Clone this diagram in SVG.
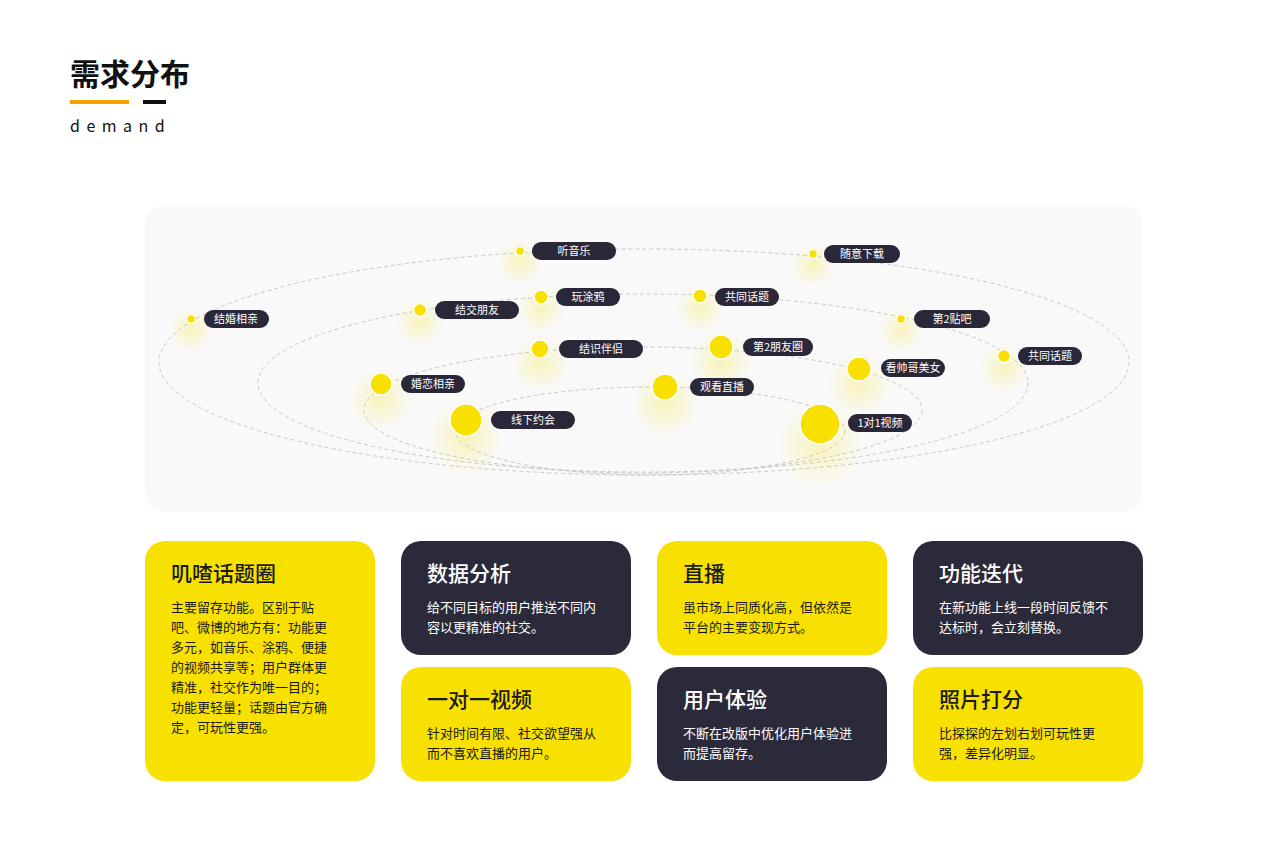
<svg xmlns="http://www.w3.org/2000/svg" width="1280" height="860" viewBox="0 0 1280 860">
<style>
text{font-family:"Noto Sans CJK SC","Noto Sans",sans-serif}
.orb{fill:none;stroke:#c8c8c8;stroke-width:1;stroke-dasharray:4 3}
.pill{fill:#2a2838}
.pt{fill:#fff;font-size:11px;text-anchor:middle}
.dot{fill:#f8e000;stroke:#fff;stroke-width:1.5}
.glow{fill:url(#g)}
.y{fill:#f8e100}.d{fill:#2b2a3a}
.ht{font-size:21px;font-weight:500}
.bt{font-size:13px}
.dk{fill:#1a1a1a}.lt{fill:#fff}
</style>
<defs><radialGradient id="g"><stop offset="0" stop-color="#f8e000" stop-opacity="0.25"/><stop offset="1" stop-color="#f8e000" stop-opacity="0"/></radialGradient></defs>
<rect width="1280" height="860" fill="#fff"/>
<text x="70" y="85" font-size="30" font-weight="700" fill="#111">需求分布</text>
<line x1="70" y1="102" x2="129" y2="102" stroke="#f5a000" stroke-width="4"/>
<line x1="143" y1="102" x2="166" y2="102" stroke="#111" stroke-width="4"/>
<text x="70" y="132" font-size="16" fill="#111" letter-spacing="6.5" font-family="Noto Sans">demand</text>
<rect x="145" y="205" width="997" height="307" rx="20" fill="#f9f9f9"/>
<g id="connectors">
<ellipse class="orb" cx="644" cy="362" rx="485" ry="113"/>
<ellipse class="orb" cx="643" cy="383" rx="385" ry="89"/>
<ellipse class="orb" cx="643" cy="410" rx="279" ry="63"/>
<ellipse class="orb" cx="650" cy="431" rx="195" ry="44"/>
</g>
<g id="n1"><circle class="glow" cx="520" cy="262" r="22"/><circle class="dot" cx="520" cy="251" r="4.5"/><rect class="pill" x="532" y="242" width="84" height="18" rx="9"/><text class="pt" x="574" y="255">听音乐</text></g>
<g id="n2"><circle class="glow" cx="813" cy="265" r="22"/><circle class="dot" cx="813" cy="254" r="4.5"/><rect class="pill" x="824" y="245" width="76" height="18" rx="9"/><text class="pt" x="862" y="258">随意下载</text></g>
<g id="n3"><circle class="glow" cx="191" cy="330" r="22"/><circle class="dot" cx="191" cy="319" r="4.5"/><rect class="pill" x="204" y="310" width="65" height="18" rx="9"/><text class="pt" x="236" y="323">结婚相亲</text></g>
<g id="n4"><circle class="glow" cx="420" cy="322" r="24"/><circle class="dot" cx="420" cy="310" r="6.5"/><rect class="pill" x="435" y="301" width="84" height="18" rx="9"/><text class="pt" x="477" y="314">结交朋友</text></g>
<g id="n5"><circle class="glow" cx="541" cy="309" r="24"/><circle class="dot" cx="541" cy="297" r="7"/><rect class="pill" x="556" y="288" width="64" height="18" rx="9"/><text class="pt" x="588" y="301">玩涂鸦</text></g>
<g id="n6"><circle class="glow" cx="700" cy="308" r="24"/><circle class="dot" cx="700" cy="296" r="7"/><rect class="pill" x="715" y="288" width="64" height="18" rx="9"/><text class="pt" x="747" y="301">共同话题</text></g>
<g id="n7"><circle class="glow" cx="901" cy="330" r="22"/><circle class="dot" cx="901" cy="319" r="4.5"/><rect class="pill" x="914" y="310" width="76" height="18" rx="9"/><text class="pt" x="952" y="323">第2贴吧</text></g>
<g id="n8"><circle class="glow" cx="1004" cy="368" r="24"/><circle class="dot" cx="1004" cy="356" r="6.5"/><rect class="pill" x="1018" y="347" width="64" height="18" rx="9"/><text class="pt" x="1050" y="360">共同话题</text></g>
<g id="n9"><circle class="glow" cx="540" cy="363" r="28"/><circle class="dot" cx="540" cy="349" r="9"/><rect class="pill" x="559" y="340" width="84" height="18" rx="9"/><text class="pt" x="601" y="353">结识伴侣</text></g>
<g id="n10"><circle class="glow" cx="721" cy="362" r="32"/><circle class="dot" cx="721" cy="347" r="12"/><rect class="pill" x="743" y="338" width="70" height="18" rx="9"/><text class="pt" x="778" y="351">第2朋友圈</text></g>
<g id="n11"><circle class="glow" cx="859" cy="384" r="32"/><circle class="dot" cx="859" cy="369" r="12"/><rect class="pill" x="881" y="359" width="64" height="18" rx="9"/><text class="pt" x="913" y="372">看帅哥美女</text></g>
<g id="n12"><circle class="glow" cx="381" cy="399" r="32"/><circle class="dot" cx="381" cy="384" r="11"/><rect class="pill" x="401" y="375" width="64" height="18" rx="9"/><text class="pt" x="433" y="388">婚恋相亲</text></g>
<g id="n13"><circle class="glow" cx="665" cy="403" r="34"/><circle class="dot" cx="665" cy="387" r="13"/><rect class="pill" x="690" y="378" width="64" height="18" rx="9"/><text class="pt" x="722" y="391">观看直播</text></g>
<g id="n14"><circle class="glow" cx="466" cy="437" r="38"/><circle class="dot" cx="466" cy="420" r="16"/><rect class="pill" x="491" y="411" width="84" height="18" rx="9"/><text class="pt" x="533" y="424">线下约会</text></g>
<g id="n15"><circle class="glow" cx="820" cy="444" r="44"/><circle class="dot" cx="820" cy="424" r="20"/><rect class="pill" x="848" y="414" width="64" height="18" rx="9"/><text class="pt" x="880" y="427">1对1视频</text></g>
<g id="c1"><rect class="y" x="145" y="541" width="230" height="240" rx="20"/><text class="ht dk" x="171" y="581">叽喳话题圈</text>
<text class="bt dk" x="171" y="612">主要留存功能。区别于贴</text><text class="bt dk" x="171" y="632">吧、微博的地方有：功能更</text><text class="bt dk" x="171" y="652">多元，如音乐、涂鸦、便捷</text><text class="bt dk" x="171" y="672">的视频共享等；用户群体更</text><text class="bt dk" x="171" y="692">精准，社交作为唯一目的；</text><text class="bt dk" x="171" y="712">功能更轻量；话题由官方确</text><text class="bt dk" x="171" y="732">定，可玩性更强。</text></g>
<g id="c2"><rect class="d" x="401" y="541" width="230" height="114" rx="20"/><text class="ht lt" x="427" y="581">数据分析</text><text class="bt lt" x="427" y="612">给不同目标的用户推送不同内</text><text class="bt lt" x="427" y="632">容以更精准的社交。</text></g>
<g id="c3"><rect class="y" x="401" y="667" width="230" height="114" rx="20"/><text class="ht dk" x="427" y="707">一对一视频</text><text class="bt dk" x="427" y="738">针对时间有限、社交欲望强从</text><text class="bt dk" x="427" y="758">而不喜欢直播的用户。</text></g>
<g id="c4"><rect class="y" x="657" y="541" width="230" height="114" rx="20"/><text class="ht dk" x="683" y="581">直播</text><text class="bt dk" x="683" y="612">虽市场上同质化高，但依然是</text><text class="bt dk" x="683" y="632">平台的主要变现方式。</text></g>
<g id="c5"><rect class="d" x="657" y="667" width="230" height="114" rx="20"/><text class="ht lt" x="683" y="707">用户体验</text><text class="bt lt" x="683" y="738">不断在改版中优化用户体验进</text><text class="bt lt" x="683" y="758">而提高留存。</text></g>
<g id="c6"><rect class="d" x="913" y="541" width="230" height="114" rx="20"/><text class="ht lt" x="939" y="581">功能迭代</text><text class="bt lt" x="939" y="612">在新功能上线一段时间反馈不</text><text class="bt lt" x="939" y="632">达标时，会立刻替换。</text></g>
<g id="c7"><rect class="y" x="913" y="667" width="230" height="114" rx="20"/><text class="ht dk" x="939" y="707">照片打分</text><text class="bt dk" x="939" y="738">比探探的左划右划可玩性更</text><text class="bt dk" x="939" y="758">强，差异化明显。</text></g>
</svg>
